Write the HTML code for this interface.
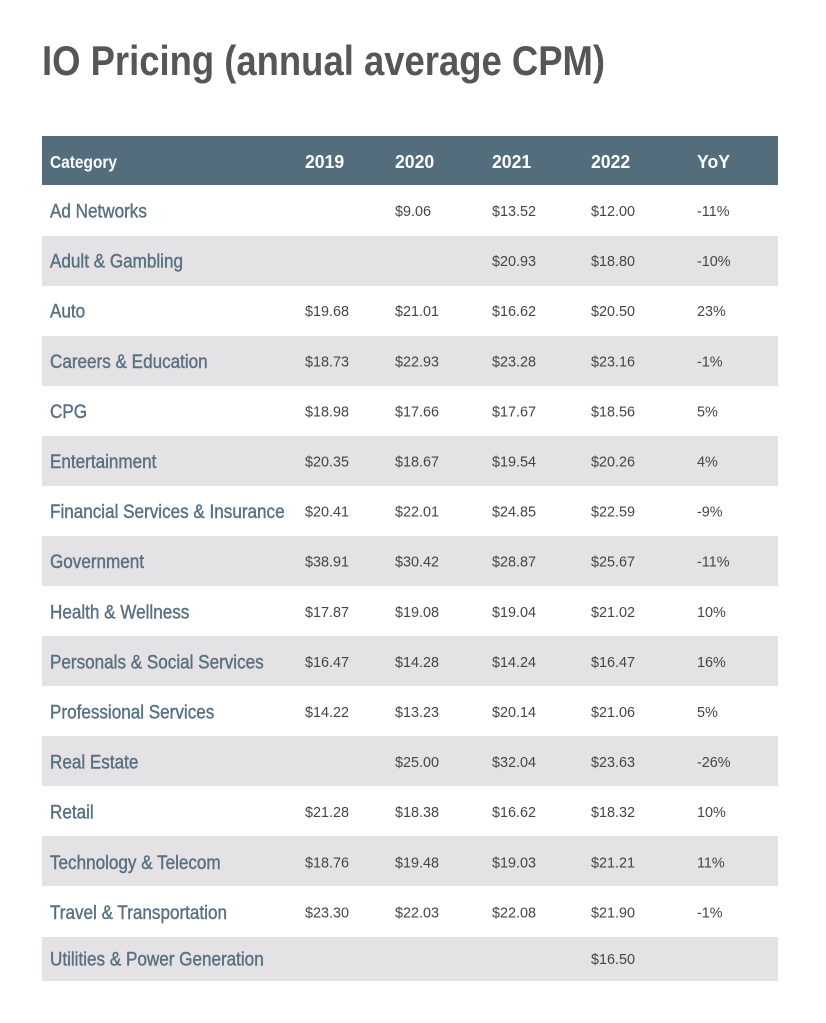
<!DOCTYPE html>
<html><head><meta charset="utf-8"><style>
html,body{margin:0;padding:0;background:#fff;}
svg{display:block;}
</style></head><body>
<svg width="826" height="1023" xmlns="http://www.w3.org/2000/svg" font-family="Liberation Sans, Arial, sans-serif">
<rect width="826" height="1023" fill="#fff"/>
<text x="42" y="75" font-size="42" font-weight="bold" fill="#565656" textLength="563" lengthAdjust="spacingAndGlyphs">IO Pricing (annual average CPM)</text>
<rect x="42" y="136" width="736" height="49" fill="#536d7c"/>
<g fill="#fff" font-weight="bold" font-size="18">
<text transform="translate(50,168) scale(0.86,1)">Category</text>
<text transform="translate(305,168) scale(0.98,1)">2019</text>
<text transform="translate(395,168) scale(0.98,1)">2020</text>
<text transform="translate(492,168) scale(0.98,1)">2021</text>
<text transform="translate(591,168) scale(0.98,1)">2022</text>
<text transform="translate(697,168) scale(0.98,1)">YoY</text>
</g>
<g fill="#e5e2e5">
<rect x="42" y="236" width="736" height="50"/>
<rect x="42" y="336" width="736" height="50"/>
<rect x="42" y="436" width="736" height="50"/>
<rect x="42" y="536" width="736" height="50"/>
<rect x="42" y="636" width="736" height="50"/>
<rect x="42" y="736" width="736" height="50"/>
<rect x="42" y="836" width="736" height="50"/>
<rect x="42" y="937" width="736" height="44"/>
</g>
<g id="rows"></g>
<script>
var rows=[
["Ad Networks","","$9.06","$13.52","$12.00","-11%"],
["Adult & Gambling","","","$20.93","$18.80","-10%"],
["Auto","$19.68","$21.01","$16.62","$20.50","23%"],
["Careers & Education","$18.73","$22.93","$23.28","$23.16","-1%"],
["CPG","$18.98","$17.66","$17.67","$18.56","5%"],
["Entertainment","$20.35","$18.67","$19.54","$20.26","4%"],
["Financial Services & Insurance","$20.41","$22.01","$24.85","$22.59","-9%"],
["Government","$38.91","$30.42","$28.87","$25.67","-11%"],
["Health & Wellness","$17.87","$19.08","$19.04","$21.02","10%"],
["Personals & Social Services","$16.47","$14.28","$14.24","$16.47","16%"],
["Professional Services","$14.22","$13.23","$20.14","$21.06","5%"],
["Real Estate","","$25.00","$32.04","$23.63","-26%"],
["Retail","$21.28","$18.38","$16.62","$18.32","10%"],
["Technology & Telecom","$18.76","$19.48","$19.03","$21.21","11%"],
["Travel & Transportation","$23.30","$22.03","$22.08","$21.90","-1%"],
["Utilities & Power Generation","","","","$16.50",""]];
var xs=[50,305,395,492,591,697];
var g=document.getElementById('rows'),ns="http://www.w3.org/2000/svg";
rows.forEach(function(r,i){
 var cy=i<15?211+50.1*i:959;
 r.forEach(function(t,j){
  if(!t)return;
  var e=document.createElementNS(ns,'text');
  e.textContent=t;
  if(j==0){e.setAttribute('font-size','19');e.setAttribute('fill','#587080');e.setAttribute('stroke','#587080');e.setAttribute('stroke-width','0.4');e.setAttribute('transform','translate(50,'+(cy+6.5)+') scale(0.9,1)');}
  else{e.setAttribute('font-size','15');e.setAttribute('fill','#454545');e.setAttribute('transform','translate('+xs[j]+','+(cy+5)+') scale(0.96,1)');}
  g.appendChild(e);
 });
});
</script>
</svg>
</body></html>
